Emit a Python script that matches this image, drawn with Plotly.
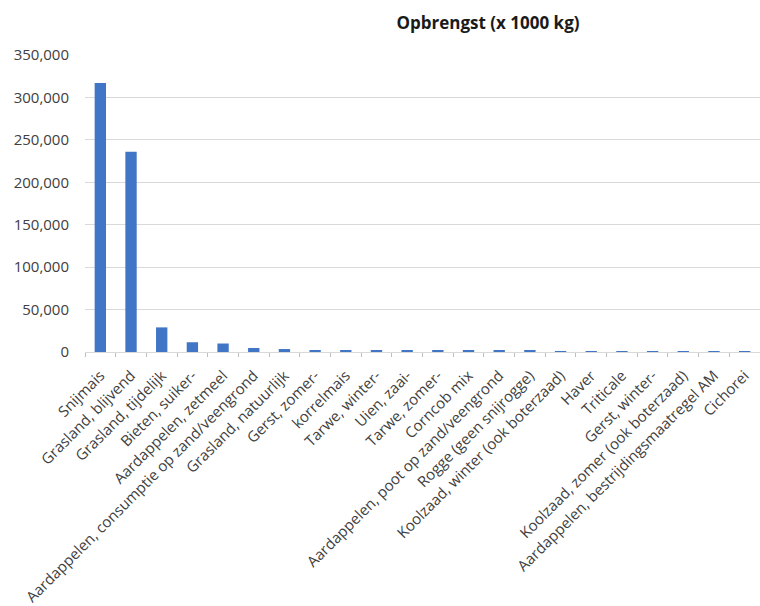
import plotly.graph_objects as go

categories = [
    "Snijmais", "Grasland, blijvend", "Grasland, tijdelijk", "Bieten, suiker-",
    "Aardappelen, zetmeel", "Aardappelen, consumptie op zand/veengrond",
    "Grasland, natuurlijk", "Gerst, zomer-", "korrelmais", "Tarwe, winter-",
    "Uien, zaai-", "Tarwe, zomer-", "Corncob mix",
    "Aardappelen, poot op zand/veengrond", "Rogge (geen snijrogge)",
    "Koolzaad, winter (ook boterzaad)", "Haver", "Triticale", "Gerst, winter-",
    "Koolzaad, zomer (ook boterzaad)", "Aardappelen, bestrijdingsmaatregel AM",
    "Cichorei",
]
values = [
    317000, 236000, 29000, 11500, 10000, 4700, 3500, 2200, 2000, 1900,
    1700, 1500, 1400, 1300, 1200, 1100, 1000, 1000, 900, 800, 200, 100,
]
y_ticks = [0, 50000, 100000, 150000, 200000, 250000, 300000, 350000]
title_text = "Opbrengst (x 1000 kg)"

fig = go.Figure(go.Bar(
    x=categories, y=values,
    marker=dict(color="#4176C6", line=dict(width=0)),
    width=0.37,
))

fig.update_layout(
    width=760, height=606,
    margin=dict(l=85, r=0, t=55, b=254, autoexpand=False),
    paper_bgcolor="white", plot_bgcolor="white",
    font=dict(family="Open Sans", size=15, color="#404040"),
    showlegend=False,
    title=dict(text="<b>" + title_text + "</b>", x=488 / 760, xanchor="center",
               y=1 - 23 / 606, yanchor="middle",
               font=dict(family="Open Sans", size=17, color="#1a1a1a")),
)
fig.update_xaxes(
    type="category", tickangle=-45, ticks="outside", tickson="boundaries",
    ticklen=4, tickcolor="#bfbfbf", showline=True, linecolor="#d9d9d9",
    showgrid=False, automargin=False, ticklabelstandoff=8,
    tickfont=dict(family="Open Sans", size=15, color="#404040"),
)
fig.update_yaxes(
    range=[0, 350000], tickvals=y_ticks,
    ticktext=[f"{v:,}" for v in y_ticks],
    showgrid=True, gridcolor="#d9d9d9", gridwidth=1, zeroline=False,
    showline=False, ticks="outside", ticklen=12, tickcolor="rgba(0,0,0,0)",
    automargin=False,
    tickfont=dict(family="Open Sans", size=15, color="#404040"),
)

fig.write_html("out.html")
